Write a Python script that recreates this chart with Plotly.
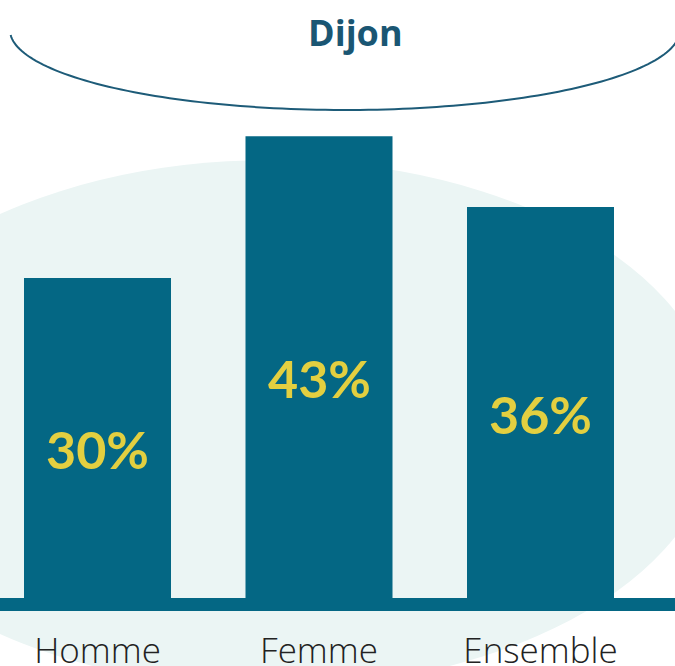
import numpy as np
import plotly.graph_objects as go

# ---- data ----
categories = ["Homme", "Femme", "Ensemble"]
values = [29.8, 43.0, 36.4]          # bar heights (%)
labels = [f"{round(v)}%" for v in values]
title_text = "Dijon"

# ---- style ----
W, H = 675, 666
BAR = "#046784"
MINT = "#EBF5F4"
YELLOW = "#E3CF40"
TITLE = "#1A5673"
ARC = "#1D5B78"

PLOT_BOTTOM_PX = 598          # pixel y of the zero line
B_MARGIN = H - PLOT_BOTTOM_PX
PX_PER_UNIT = 10.74
YMAX = PLOT_BOTTOM_PX / PX_PER_UNIT

SPACING = 221.5               # px between category centres
FIRST_CENTRE = 97.5
X0 = -FIRST_CENTRE / SPACING
X1 = X0 + W / SPACING


def px_x(px):
    return px / W


def px_y(py):
    return (PLOT_BOTTOM_PX - py) / PLOT_BOTTOM_PX


fig = go.Figure()
fig.add_trace(go.Bar(
    x=categories, y=values,
    width=147 / SPACING,
    marker=dict(color=BAR, line=dict(width=0)),
    hoverinfo="skip",
))

# value labels
for c, v, t in zip(categories, values, labels):
    fig.add_annotation(x=c, y=v / 2, text=t, showarrow=False,
                       xref="x", yref="y", yshift=-11,
                       font=dict(family="Lato", size=52, color=YELLOW, weight="bold"))

shapes = []
# background mint ellipse
cx, cy, a, b = 271, 424, 447, 264
shapes.append(dict(type="circle", xref="paper", yref="paper",
                   x0=px_x(cx - a), x1=px_x(cx + a),
                   y0=px_y(cy + b), y1=px_y(cy - b),
                   fillcolor=MINT, line=dict(width=0), layer="below"))
# baseline
shapes.append(dict(type="rect", xref="paper", yref="paper",
                   x0=0, x1=1, y0=px_y(611), y1=px_y(598),
                   fillcolor=BAR, line=dict(width=0), layer="below"))
# title arc (lower half of an ellipse)
acx, acy, aa, ab = 345, 30, 335, 80
t = np.linspace(np.pi - 0.0625, 0.0, 120)
xs = acx + aa * np.cos(t)
ys = acy + ab * np.sin(t)
path = "M " + " L ".join(f"{px_x(x):.5f},{px_y(y):.5f}" for x, y in zip(xs, ys))
shapes.append(dict(type="path", xref="paper", yref="paper", path=path,
                   line=dict(color=ARC, width=2), layer="above"))

fig.add_annotation(x=px_x(355), y=px_y(33), xref="paper", yref="paper",
                   text=title_text, showarrow=False, xanchor="center", yanchor="middle",
                   font=dict(family="Open Sans", size=36, color=TITLE, weight="bold"))

fig.update_layout(
    width=W, height=H,
    margin=dict(l=0, r=0, t=0, b=B_MARGIN, pad=0, autoexpand=False),
    paper_bgcolor="white", plot_bgcolor="rgba(0,0,0,0)",
    showlegend=False,
    shapes=shapes,
    xaxis=dict(range=[X0, X1], showgrid=False, zeroline=False, showline=False,
               automargin=False, ticks="", ticklabelstandoff=29,
               tickfont=dict(family="Open Sans", size=35, color="#222222", weight=300)),
    yaxis=dict(range=[0, YMAX], showgrid=False, zeroline=False, showline=False,
               automargin=False, showticklabels=False, ticks=""),
)

fig.write_html("out.html", config={"displayModeBar": False},
               post_script="document.body.style.margin='0';")
